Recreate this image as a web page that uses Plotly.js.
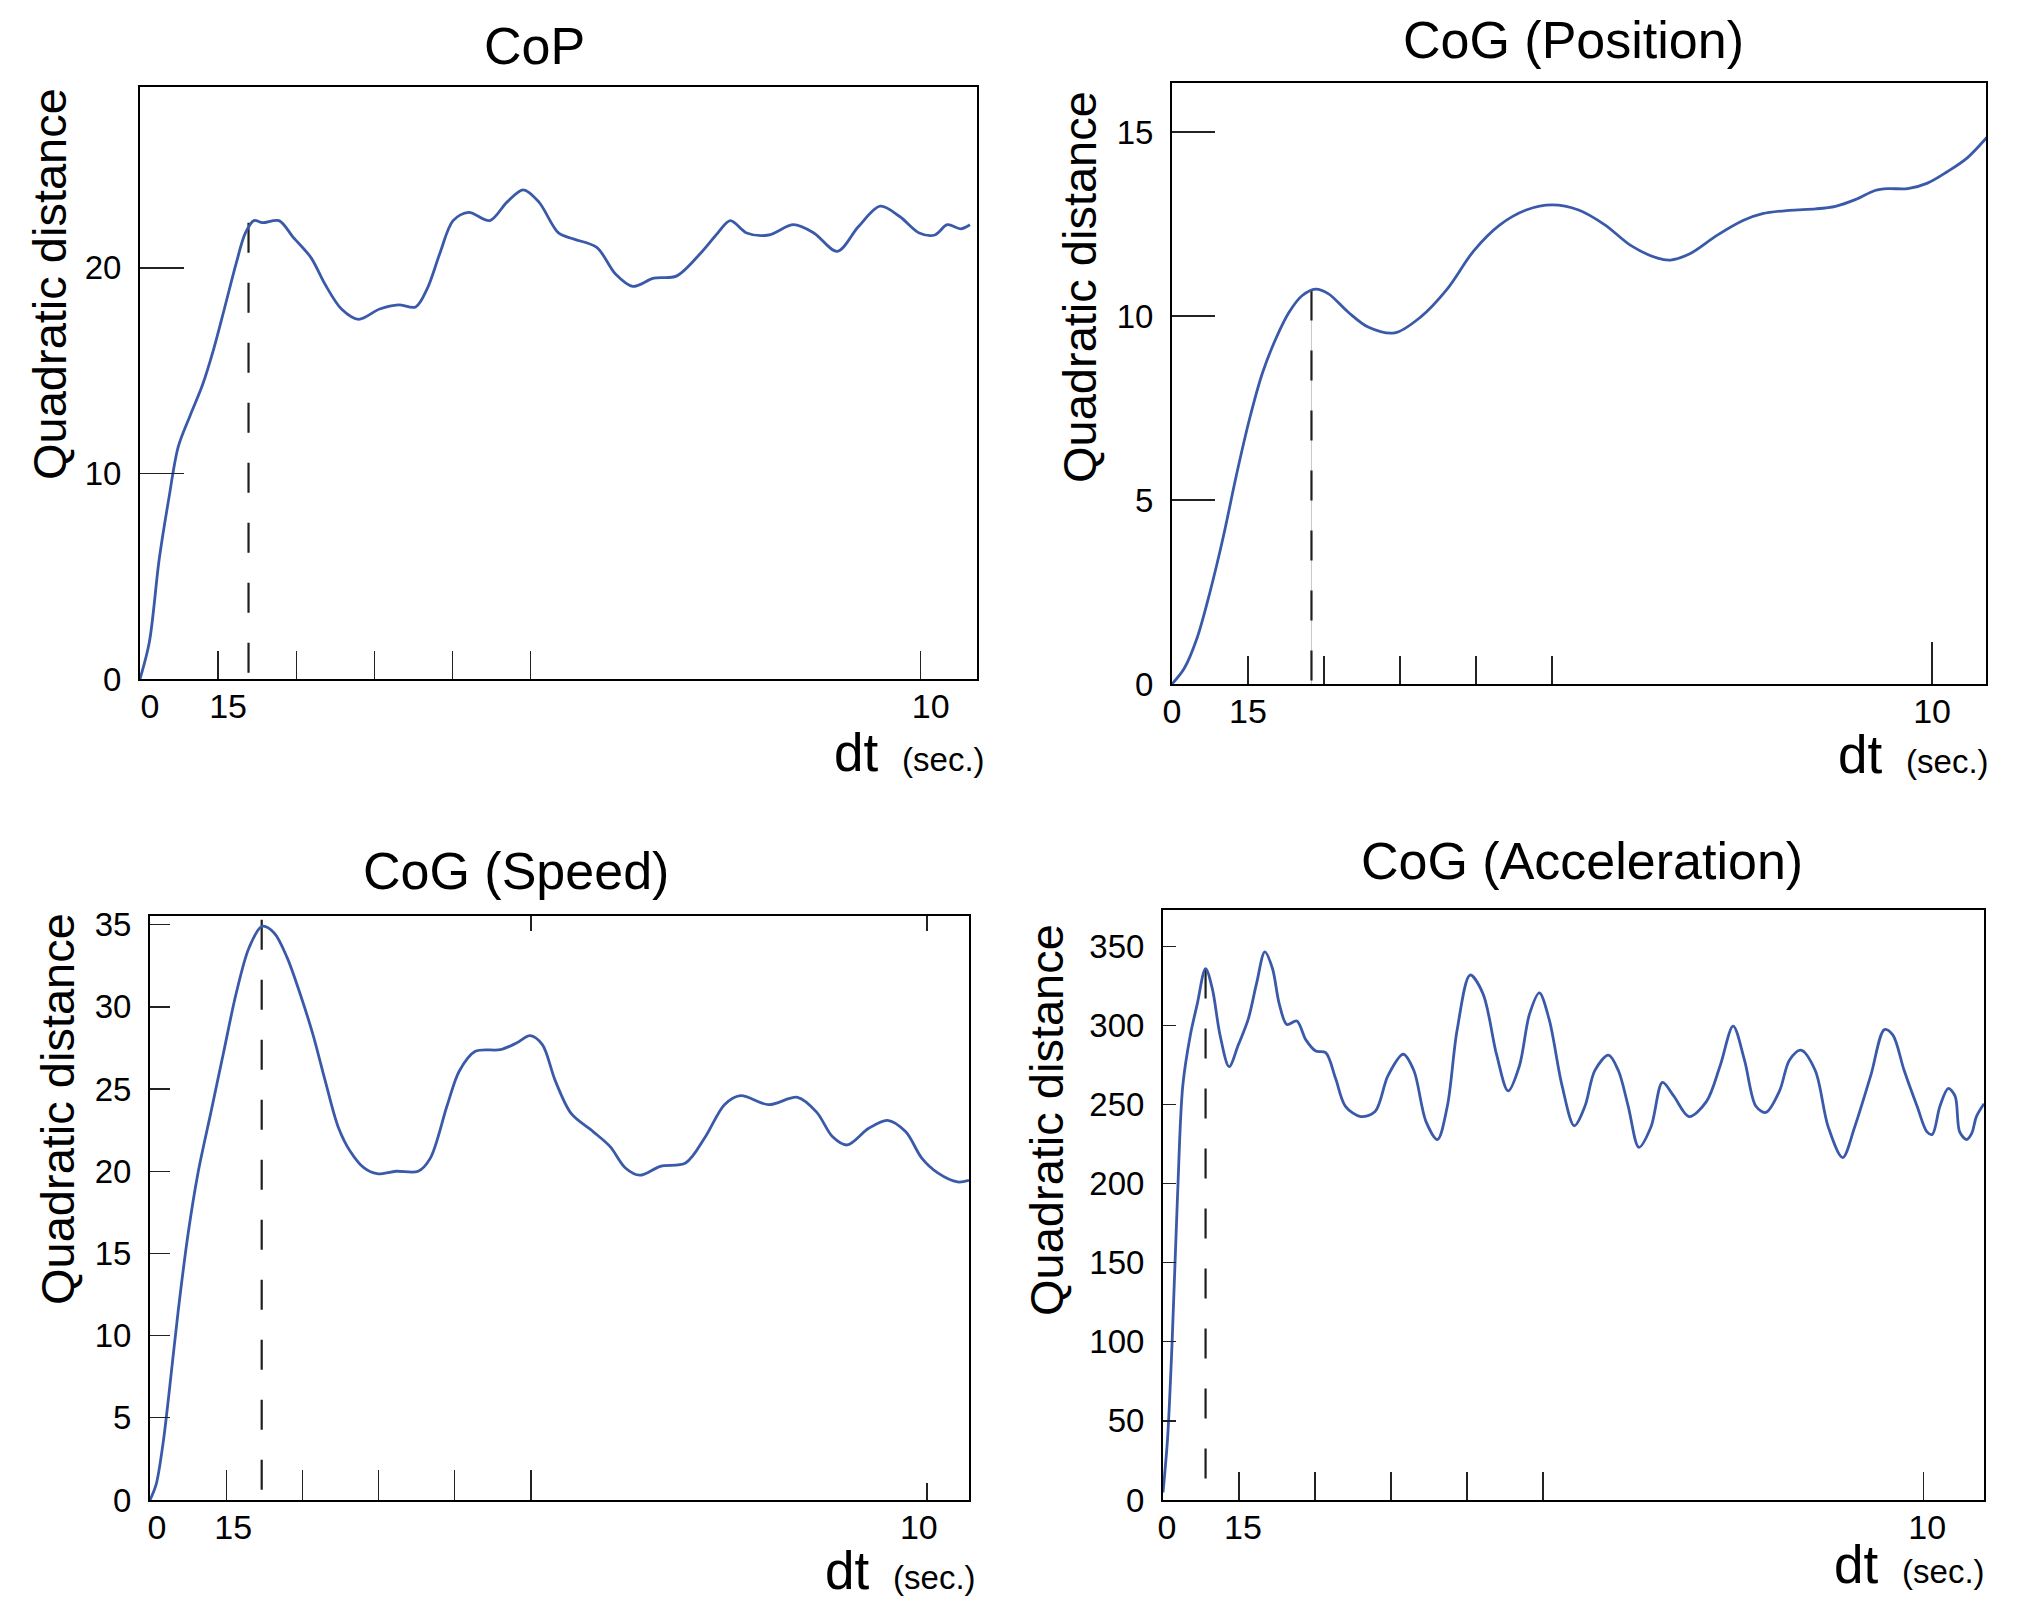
<!DOCTYPE html>
<html><head><meta charset="utf-8">
<script src="https://cdn.plot.ly/plotly-3.0.1.min.js"></script>
<style>html,body{margin:0;padding:0;background:#fff}#chart{width:2031px;height:1601px}</style>
</head><body><div id="chart"></div>
<script>
// ---------- data ----------
const titles = ["CoP", "CoG (Position)", "CoG (Speed)", "CoG (Acceleration)"];
const yTitle = "Quadratic distance";
const xTickText = ["0", "15", "10"];

const copX = [0,0.12,0.245,0.37,0.49,0.64,0.80,0.94,1.08,1.23,1.35,1.46,1.57,1.78,1.96,2.19,2.37,2.58,2.80,3.07,3.31,3.53,3.68,3.84,4.01,4.21,4.48,4.70,4.91,5.11,5.36,5.56,5.85,6.09,6.31,6.58,6.87,7.20,7.40,7.56,7.77,8.05,8.37,8.63,8.93,9.20,9.48,9.73,9.98,10.18,10.34,10.51,10.63];
const copY = [0,1.8,5.8,8.8,11.3,12.8,14.3,16.0,18.0,20.2,21.7,22.3,22.2,22.3,21.5,20.5,19.2,18.0,17.5,18.0,18.2,18.1,19.0,20.7,22.3,22.7,22.3,23.2,23.8,23.2,21.7,21.4,21.0,19.7,19.1,19.5,19.6,20.8,21.7,22.3,21.7,21.6,22.1,21.7,20.8,22.0,23.0,22.5,21.7,21.6,22.1,21.9,22.1];
const copPeak = {x: 1.39, y: 22.2};

const posX = [0,0.16,0.33,0.50,0.675,0.85,1.02,1.19,1.37,1.54,1.71,1.89,2.06,2.32,2.58,2.93,3.27,3.62,3.97,4.31,4.66,5.0,5.35,5.70,6.04,6.39,6.56,6.82,7.17,7.52,7.77,8.12,8.47,8.73,8.99,9.25,9.42,9.68,9.94,10.20,10.46,10.72];
const posY = [0,0.42,1.25,2.5,4.0,5.7,7.2,8.45,9.4,10.1,10.55,10.73,10.6,10.1,9.7,9.54,9.97,10.73,11.77,12.47,12.88,13.02,12.88,12.47,11.91,11.57,11.52,11.70,12.19,12.60,12.78,12.87,12.91,12.98,13.16,13.41,13.46,13.46,13.61,13.92,14.29,14.85];
const posPeak = {x: 1.835, y: 10.69};

const spdX = [0,0.08,0.17,0.25,0.37,0.50,0.63,0.80,0.96,1.13,1.30,1.47,1.63,1.80,1.97,2.14,2.30,2.47,2.63,2.81,2.98,3.23,3.52,3.68,3.90,4.06,4.27,4.60,4.81,4.99,5.15,5.32,5.53,5.82,6.04,6.24,6.43,6.70,7.03,7.29,7.54,7.75,8.12,8.50,8.75,8.96,9.15,9.43,9.68,9.92,10.13,10.34,10.60,10.75];
const spdY = [0,0.93,3.4,6.5,11.5,16.2,19.9,23.6,27.1,30.8,33.6,34.9,34.5,33.0,30.8,28.3,25.5,22.7,21.2,20.2,19.85,20.0,20.0,20.8,24.0,26.1,27.3,27.4,27.8,28.25,27.7,25.5,23.5,22.4,21.5,20.2,19.76,20.3,20.5,22.1,24.05,24.6,24.05,24.5,23.6,22.1,21.6,22.6,23.1,22.4,20.8,19.9,19.35,19.45];
const spdPeak = {x: 1.466, y: 35.3};

const accX = [0,0.06,0.12,0.19,0.26,0.36,0.45,0.56,0.65,0.75,0.87,0.99,1.12,1.23,1.34,1.44,1.53,1.63,1.76,1.88,2.01,2.14,2.27,2.40,2.60,2.79,2.96,3.16,3.30,3.46,3.61,3.74,3.87,4.04,4.21,4.39,4.54,4.69,4.82,4.95,5.08,5.25,5.41,5.55,5.68,5.86,5.99,6.12,6.26,6.42,6.57,6.72,6.92,7.15,7.33,7.50,7.65,7.80,7.93,8.11,8.24,8.39,8.58,8.75,8.94,9.10,9.31,9.49,9.60,9.75,9.92,10.05,10.12,10.22,10.33,10.42,10.48,10.57,10.64,10.70,10.80];
const accY = [4.8,38.8,100,190.7,261.8,294,313.5,336,323,294,274,287.6,303.8,326.4,346.5,336,313.5,300.6,302.8,290.9,283.8,282.8,266.6,248.9,242.4,245.6,268.3,281.8,271.5,239.2,227.9,248.9,297.4,331.9,320,281.2,258.6,274.7,307,320.6,303.8,261.8,236.6,248.9,271.5,281.2,271.5,248.9,223,236,264,255.3,242.4,252,274.7,299.6,278,248.9,245,258.6,278,284.4,271.5,236,216.5,236,268.3,297.4,294,271.5,248.9,232.7,231.1,248.9,260.2,255.3,232.7,227.9,232,242.4,250.5];
const accPeak = {x: 0.56, y: 336};

// tick values per panel
const copYTicks = [0, 10, 20];
const posYTicks = [0, 5, 10, 15];
const spdYTicks = [0, 5, 10, 15, 20, 25, 30, 35];
const accYTicks = [0, 50, 100, 150, 200, 250, 300, 350];
const xLabelTicks = [0, 1, 10];
const xMinorTicks = [2, 3, 4, 5];
const spdBottomTicks = [1, 2, 3, 4, 5];
const spdBottomEndTick = [10.2];
const spdTopTicks = [5, 10.2];
const posEndTick = [10];

// ---------- helpers ----------
const W = 2031, H = 1601;
const px = v => v / W;
const py = v => 1 - v / H;
const BLUE = '#3a5aa9';
const FONT = 'Liberation Sans, Arial, Helvetica, sans-serif';
const TICKC = '#222';

function line(x, y, xa, ya) {
  return {x, y, xaxis: xa, yaxis: ya, type: 'scatter', mode: 'lines',
    line: {color: BLUE, width: 2.8, shape: 'spline', smoothing: 0.9},
    hoverinfo: 'skip', showlegend: false};
}
function dashed(p, xa, ya, under) {
  const arr = [];
  if (under) arr.push({x: [p.x, p.x], y: [p.y, 0], xaxis: xa, yaxis: ya, type: 'scatter', mode: 'lines',
    line: {color: '#c8c8c8', width: 1}, hoverinfo: 'skip', showlegend: false});
  arr.push({x: [p.x, p.x], y: [p.y, 0], xaxis: xa, yaxis: ya, type: 'scatter', mode: 'lines',
    line: {color: '#1e1e1e', width: 2.2, dash: '30px,30px'}, hoverinfo: 'skip', showlegend: false});
  return arr;
}

function xAxis(domain, range, anchor, shift, noTicks) {
  const a = {domain, range, anchor, showgrid: false, zeroline: false,
    showline: true, linecolor: '#000', linewidth: 2, mirror: true,
    tickmode: 'array', tickvals: xLabelTicks, ticktext: xTickText,
    ticks: noTicks ? '' : 'inside', ticklen: 28, tickwidth: 1.3, tickcolor: TICKC,
    ticklabelstandoff: -4, ticklabelshift: shift,
    tickfont: {family: FONT, size: 34, color: '#000'}, fixedrange: true};
  if (!noTicks) a.minor = {tickmode: 'array', tickvals: xMinorTicks, ticks: 'inside', ticklen: 28, tickwidth: 1.3, tickcolor: TICKC, showgrid: false};
  return a;
}
function yAxis(domain, range, anchor, tickvals, len) {
  return {domain, range, anchor, showgrid: false, zeroline: false,
    showline: true, linecolor: '#000', linewidth: 2, mirror: true,
    tickmode: 'array', tickvals, ticks: 'inside', ticklen: len, tickwidth: 1.3, tickcolor: TICKC,
    ticklabelstandoff: 10,
    tickfont: {family: FONT, size: 33, color: '#000'}, fixedrange: true};
}
function tickOnly(over, anchor, side, range, vals, len, minorVals, minorLen) {
  const a = {overlaying: over, anchor, side, range, tickmode: 'array', tickvals: vals,
    ticks: 'inside', ticklen: len, tickwidth: 1.3, tickcolor: TICKC, showticklabels: false, showline: false,
    showgrid: false, zeroline: false, fixedrange: true};
  if (minorVals) a.minor = {tickmode: 'array', tickvals: minorVals, ticks: 'inside', ticklen: minorLen, tickwidth: 1.3, tickcolor: TICKC, showgrid: false};
  return a;
}

const data = [
  ...dashed(copPeak, 'x', 'y'), line(copX, copY, 'x', 'y'),
  ...dashed(posPeak, 'x2', 'y2', true), line(posX, posY, 'x2', 'y2'),
  ...dashed(spdPeak, 'x3', 'y3'), line(spdX, spdY, 'x3', 'y3'),
  ...dashed(accPeak, 'x4', 'y4'), line(accX, accY, 'x4', 'y4')
];

const ann = [];
function title(t, cx, cy) {
  ann.push({text: t, xref: 'paper', yref: 'paper', x: px(cx), y: py(cy), xanchor: 'center', yanchor: 'middle',
    showarrow: false, font: {family: FONT, size: 52, color: '#000'}});
}
function ytitle(cx, cy) {
  ann.push({text: yTitle, xref: 'paper', yref: 'paper', x: px(cx), y: py(cy), xanchor: 'center', yanchor: 'middle',
    textangle: -90, showarrow: false, font: {family: FONT, size: 47, color: '#000'}});
}
function xtitle(rx, cy) {
  ann.push({text: "dt <span style='font-size:33px'> (sec.)</span>", xref: 'paper', yref: 'paper', x: px(rx), y: py(cy),
    xanchor: 'right', yanchor: 'middle', showarrow: false, font: {family: FONT, size: 53, color: '#000'}});
}
title(titles[0], 534, 46); title(titles[1], 1573, 40); title(titles[2], 516, 871); title(titles[3], 1582, 861);
ytitle(49, 284); ytitle(1079, 287); ytitle(57, 1109); ytitle(1046, 1120);
xtitle(987, 752); xtitle(1991, 754); xtitle(978, 1570); xtitle(1987, 1564);

const layout = {
  width: W, height: H, margin: {l: 0, r: 0, t: 0, b: 0},
  paper_bgcolor: '#fff', plot_bgcolor: '#fff', showlegend: false,
  xaxis:  xAxis([px(140), px(977)], [0, 10.72], 'y', 10),
  yaxis:  yAxis([py(679), py(87)], [0, 28.8], 'x', copYTicks, 44),
  xaxis2: xAxis([px(1172), px(1986)], [0, 10.71], 'y2', 0),
  yaxis2: yAxis([py(684), py(83)], [0, 16.33], 'x2', posYTicks, 43),
  xaxis3: xAxis([px(150), px(969)], [0, 10.75], 'y3', 7, true),
  yaxis3: yAxis([py(1500), py(916)], [0, 35.53], 'x3', spdYTicks, 20),
  xaxis4: xAxis([px(1163), px(1984)], [0, 10.8], 'y4', 4),
  yaxis4: yAxis([py(1500), py(910)], [0, 373], 'x4', accYTicks, 13),
  xaxis5: tickOnly('x3', 'y3', 'top', [0, 10.75], spdTopTicks, 15),
  xaxis6: tickOnly('x2', 'y2', 'bottom', [0, 10.71], posEndTick, 42),
  xaxis7: tickOnly('x3', 'y3', 'bottom', [0, 10.75], spdBottomTicks, 30, spdBottomEndTick, 17),
  annotations: ann
};
// empty traces to activate tick-only overlay axes
data.push({x: [], y: [], xaxis: 'x5', yaxis: 'y3', type: 'scatter', mode: 'lines', showlegend: false, hoverinfo: 'skip'});
data.push({x: [], y: [], xaxis: 'x6', yaxis: 'y2', type: 'scatter', mode: 'lines', showlegend: false, hoverinfo: 'skip'});
data.push({x: [], y: [], xaxis: 'x7', yaxis: 'y3', type: 'scatter', mode: 'lines', showlegend: false, hoverinfo: 'skip'});

Plotly.newPlot('chart', data, layout, {displayModeBar: false, staticPlot: true});
</script>
</body></html>
